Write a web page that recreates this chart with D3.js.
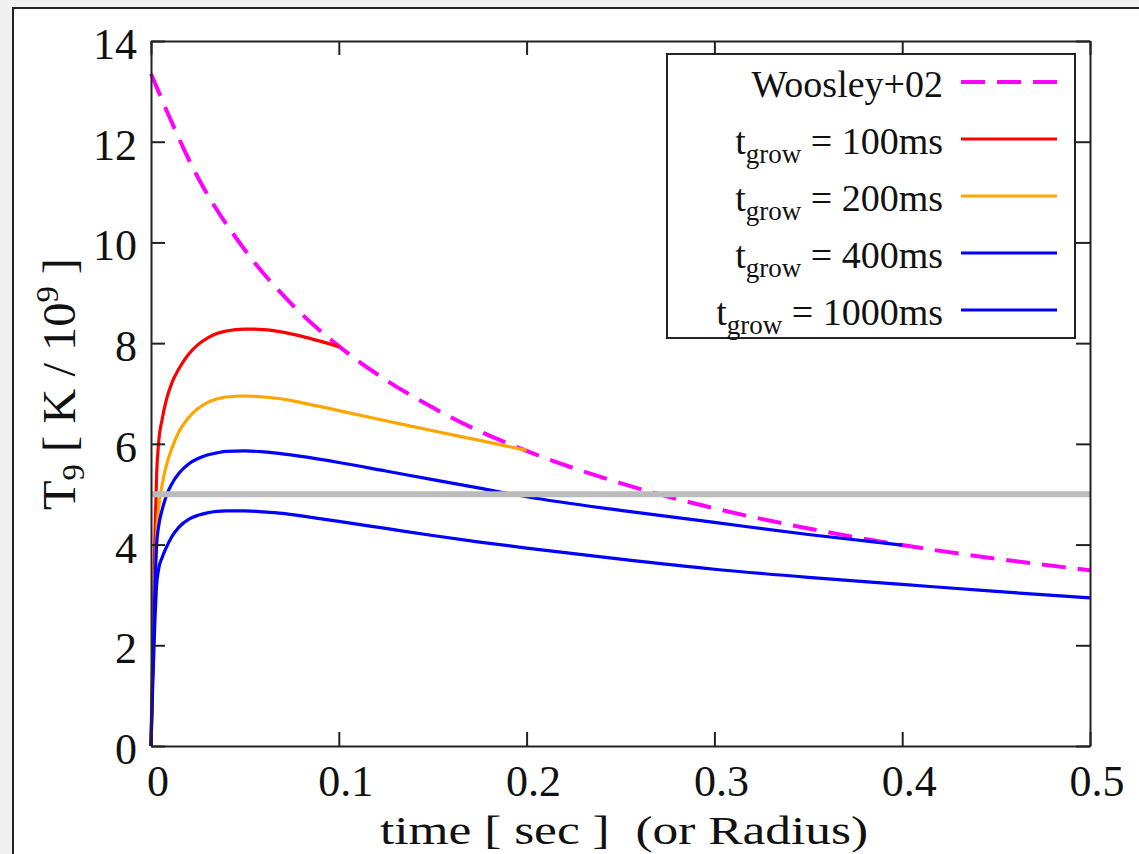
<!DOCTYPE html>
<html>
<head>
<meta charset="utf-8">
<script src="https://cdn.jsdelivr.net/npm/d3@7"></script>
<style>
  body { margin: 0; background: #f0f0f0; }
  text { font-family: "Liberation Serif", "DejaVu Serif", serif; fill: #111; }
</style>
</head>
<body>
<div id="chart"></div>
<script>
// Chart data
const xTicks = [0, 0.1, 0.2, 0.3, 0.4, 0.5];
const yTicks = [0, 2, 4, 6, 8, 10, 12, 14];
const xTickLabels = ["0", "0.1", "0.2", "0.3", "0.4", "0.5"];
const thresholdT = 5;

const woosleyTime = [0, 0.025, 0.05, 0.075, 0.1, 0.125, 0.15, 0.175, 0.2, 0.25, 0.3, 0.35, 0.4, 0.45, 0.5];
const woosleyTemp = [13.35, 11.29, 9.85, 8.77, 7.94, 7.27, 6.72, 6.25, 5.86, 5.22, 4.72, 4.32, 3.99, 3.72, 3.49];

const grow100Time = [0, 0.001, 0.002, 0.003, 0.004, 0.006, 0.008, 0.011, 0.015, 0.02, 0.025, 0.03, 0.035, 0.04, 0.05, 0.06, 0.07, 0.08, 0.09, 0.1];
const grow100Temp = [0, 2.0, 4.0, 5.4, 6.0, 6.5, 6.85, 7.2, 7.5, 7.78, 7.97, 8.1, 8.19, 8.24, 8.28, 8.27, 8.22, 8.14, 8.04, 7.93];

const grow200Time = [0, 0.001, 0.002, 0.003, 0.004, 0.006, 0.008, 0.011, 0.015, 0.02, 0.025, 0.03, 0.035, 0.04, 0.05, 0.06, 0.07, 0.08, 0.1, 0.125, 0.15, 0.175, 0.2];
const grow200Temp = [0, 1.8, 3.2, 4.2, 4.7, 5.2, 5.55, 5.9, 6.25, 6.52, 6.7, 6.82, 6.89, 6.93, 6.95, 6.93, 6.89, 6.82, 6.66, 6.46, 6.26, 6.07, 5.87];

const grow400Time = [0, 0.001, 0.002, 0.003, 0.004, 0.006, 0.008, 0.011, 0.015, 0.02, 0.025, 0.03, 0.035, 0.04, 0.05, 0.06, 0.07, 0.08, 0.1, 0.125, 0.15, 0.175, 0.2, 0.25, 0.3, 0.35, 0.4];
const grow400Temp = [0, 1.6, 3.0, 4.0, 4.35, 4.7, 4.95, 5.2, 5.42, 5.6, 5.71, 5.78, 5.82, 5.85, 5.86, 5.84, 5.8, 5.75, 5.63, 5.46, 5.29, 5.12, 4.95, 4.68, 4.44, 4.2, 3.99];

const grow1000Time = [0, 0.001, 0.002, 0.003, 0.004, 0.006, 0.008, 0.011, 0.015, 0.02, 0.025, 0.03, 0.035, 0.04, 0.05, 0.06, 0.07, 0.08, 0.1, 0.125, 0.15, 0.175, 0.2, 0.25, 0.3, 0.35, 0.4, 0.45, 0.5];
const grow1000Temp = [0, 1.3, 2.4, 3.2, 3.5, 3.75, 3.93, 4.15, 4.35, 4.5, 4.58, 4.63, 4.66, 4.67, 4.67, 4.65, 4.62, 4.57, 4.46, 4.32, 4.18, 4.05, 3.93, 3.71, 3.51, 3.35, 3.21, 3.07, 2.94];

const seriesNames = ["Woosley+02", "100ms", "200ms", "400ms", "1000ms"];
const seriesColors = ["#ff00ff", "#ff0000", "#ffa500", "#0000ff", "#0000ff"];

// SVG area
const svgWidth = 1139;
const svgHeight = 854;

const margin = { top: 41, right: 49, bottom: 108, left: 151 };
const chartWidth = svgWidth - margin.left - margin.right;
const chartHeight = svgHeight - margin.top - margin.bottom;

const svg = d3.select("#chart")
  .append("svg")
  .attr("width", svgWidth)
  .attr("height", svgHeight);

// outer white panel with frame
svg.append("rect")
  .attr("x", 13).attr("y", 8)
  .attr("width", svgWidth + 10).attr("height", svgHeight + 10)
  .attr("fill", "#fff")
  .attr("stroke", "#222")
  .attr("stroke-width", 2);

const chartGroup = svg.append("g")
  .attr("transform", `translate(${margin.left}, ${margin.top})`);

const x = d3.scaleLinear().domain([0, 0.5]).range([0, chartWidth]);
const y = d3.scaleLinear().domain([0, 14]).range([chartHeight, 0]);

const line = d3.line()
  .x(d => x(d[0]))
  .y(d => y(d[1]))
  .curve(d3.curveMonotoneX);

const series = [
  d3.zip(woosleyTime, woosleyTemp),
  d3.zip(grow100Time, grow100Temp),
  d3.zip(grow200Time, grow200Temp),
  d3.zip(grow400Time, grow400Temp),
  d3.zip(grow1000Time, grow1000Temp)
];

// curves
series.forEach((s, i) => {
  chartGroup.append("path")
    .datum(s)
    .attr("d", line)
    .attr("fill", "none")
    .attr("stroke", seriesColors[i])
    .attr("stroke-width", i === 0 ? 4 : 3.2)
    .attr("stroke-dasharray", i === 0 ? "24,12" : null)
    .attr("stroke-linejoin", "round");
});

// grey threshold line
chartGroup.append("line")
  .attr("x1", x(0)).attr("x2", x(0.5))
  .attr("y1", y(thresholdT)).attr("y2", y(thresholdT))
  .attr("stroke", "#bbb")
  .attr("stroke-width", 6);

// axes: ticks inward on all four sides
const tickLen = 14;
chartGroup.append("g")
  .attr("transform", `translate(0, ${chartHeight})`)
  .call(d3.axisBottom(x).tickValues(xTicks).tickSizeInner(-tickLen).tickSizeOuter(0).tickFormat(""));
chartGroup.append("g")
  .call(d3.axisTop(x).tickValues(xTicks).tickSizeInner(-tickLen).tickSizeOuter(0).tickFormat(""));
chartGroup.append("g")
  .call(d3.axisLeft(y).tickValues(yTicks).tickSizeInner(-tickLen).tickSizeOuter(0).tickFormat(""));
chartGroup.append("g")
  .attr("transform", `translate(${chartWidth}, 0)`)
  .call(d3.axisRight(y).tickValues(yTicks).tickSizeInner(-tickLen).tickSizeOuter(0).tickFormat(""));
chartGroup.selectAll(".domain, .tick line")
  .attr("stroke", "#222")
  .attr("stroke-width", 2);

// tick labels
chartGroup.selectAll(".ylab")
  .data(yTicks)
  .enter()
  .append("text")
  .attr("x", -14)
  .attr("y", d => y(d) + 18)
  .attr("text-anchor", "end")
  .style("font-size", "44px")
  .text(d => d);

chartGroup.selectAll(".xlab")
  .data(xTicks)
  .enter()
  .append("text")
  .attr("x", d => x(d) + 7)
  .attr("y", chartHeight + 50)
  .attr("text-anchor", "middle")
  .style("font-size", "44px")
  .text((d, i) => xTickLabels[i]);

// legend
const legend = svg.append("g");
legend.append("rect")
  .attr("x", 667).attr("y", 54)
  .attr("width", 408).attr("height", 284)
  .attr("fill", "#fff")
  .attr("stroke", "#222")
  .attr("stroke-width", 2);

seriesNames.forEach((name, i) => {
  const ly = 82 + i * 57;
  legend.append("line")
    .attr("x1", 961).attr("x2", 1057)
    .attr("y1", ly).attr("y2", ly)
    .attr("stroke", seriesColors[i])
    .attr("stroke-width", i === 0 ? 4 : 3.2)
    .attr("stroke-dasharray", i === 0 ? "24,12" : null);

  const label = legend.append("text")
    .attr("x", 943)
    .attr("y", ly + 15)
    .attr("text-anchor", "end")
    .style("font-size", "38px");
  if (i === 0) {
    label.text(name);
  } else {
    label.append("tspan").text("t");
    label.append("tspan").attr("dy", 9).style("font-size", "27px").text("grow");
    label.append("tspan").attr("dy", -9).text(" = " + name);
  }
});

// axis titles
const yTitle = svg.append("text")
  .attr("transform", "translate(75, 384) rotate(-90)")
  .attr("text-anchor", "middle")
  .attr("textLength", 252)
  .attr("lengthAdjust", "spacingAndGlyphs")
  .style("font-size", "46px");
yTitle.append("tspan").text("T");
yTitle.append("tspan").attr("dy", 9).style("font-size", "31px").text("9");
yTitle.append("tspan").attr("dy", -9).text(" [ K / 10");
yTitle.append("tspan").attr("dy", -17).style("font-size", "31px").text("9");
yTitle.append("tspan").attr("dy", 17).text(" ]");

svg.append("text")
  .attr("x", 624)
  .attr("y", 844)
  .attr("text-anchor", "middle")
  .attr("textLength", 488)
  .attr("lengthAdjust", "spacingAndGlyphs")
  .style("font-size", "40px")
  .style("white-space", "pre")
  .text("time [ sec ]  (or Radius)");
</script>
</body>
</html>
